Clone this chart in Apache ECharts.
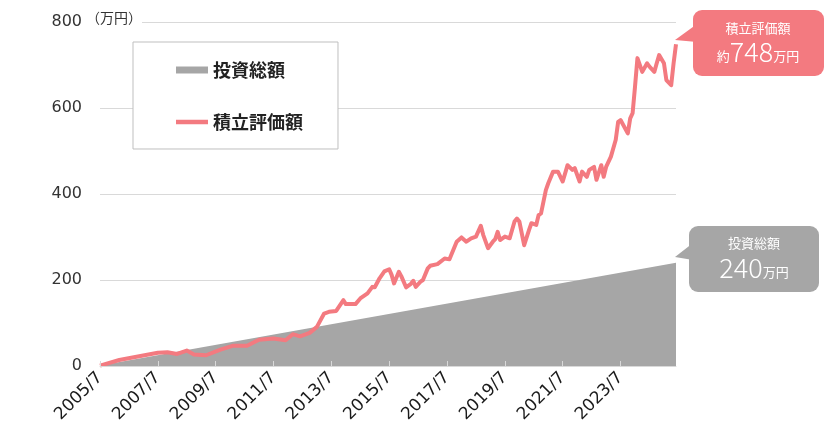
<!DOCTYPE html>
<html>
<head>
<meta charset="utf-8">
<script src="https://cdn.jsdelivr.net/npm/echarts@6/dist/echarts.min.js"></script>
<style>html,body{margin:0;padding:0;background:#fff;}#c{width:825px;height:437px;}</style>
</head>
<body>
<div id="c"></div>
<script>
// Month index 0 = 2005/7, 239 = 2025/6
const startYear = 2005, startMonth = 7, monthCount = 240;
const yTicks = [0, 200, 400, 600, 800];
const investMonths = [0, 239];
const investValues = [1, 240];
const evalMonths = [0, 8, 24, 28, 32, 36, 39, 44, 50, 55, 61, 66, 72, 77, 80, 83, 87, 90, 93, 95, 98, 101, 102, 106, 108, 111, 113, 114, 116, 118, 120, 121, 122, 124, 125, 127, 129, 130, 131, 133, 134, 136, 137, 140, 143, 145, 148, 150, 152, 154, 156, 158, 159, 161, 163, 164, 165, 166, 168, 170, 172, 173, 174, 176, 178, 179, 181, 182, 183, 185, 186, 188, 190, 192, 194, 196, 197, 199, 200, 202, 203, 205, 206, 208, 209, 210, 212, 214, 215, 216, 219, 220, 221, 222, 223, 225, 227, 228, 230, 231, 232, 234, 235, 237, 238, 239];
const evalValues = [1, 14, 31, 32, 28, 36, 27, 25, 38, 47, 47, 61, 64, 60, 74, 69, 77, 91, 122, 126, 128, 153, 144, 144, 157, 169, 184, 183, 204, 220, 225, 212, 192, 219, 209, 183, 191, 198, 184, 196, 200, 227, 233, 237, 250, 248, 289, 299, 289, 297, 301, 326, 305, 274, 289, 295, 312, 293, 301, 297, 336, 343, 336, 281, 316, 332, 328, 351, 355, 409, 425, 452, 452, 429, 467, 456, 460, 429, 452, 440, 456, 463, 433, 467, 440, 463, 487, 526, 568, 572, 541, 576, 588, 650, 716, 684, 704, 696, 684, 704, 723, 704, 665, 653, 704, 748];

const categories = [];
for (let i = 0; i < monthCount; i++) {
  const m = startMonth - 1 + i;
  categories.push((startYear + Math.floor(m / 12)) + '/' + (m % 12 + 1));
}
const investData = investMonths.map((m, i) => [m, investValues[i]]);
const evalData = evalMonths.map((m, i) => [m, evalValues[i]]);

const RED = '#f37a80', GRAY = '#a6a6a6';
const NUM_FONT = 'DejaVu Sans';
const JP = 'Noto Sans CJK JP';

const chart = echarts.init(document.getElementById('c'));
chart.setOption({
  animation: false,
  backgroundColor: '#fff',
  grid: { left: 100, right: 149, top: 22, bottom: 71 },
  legend: {
    orient: 'vertical', left: 133, top: 42,
    padding: [19, 35, 18, 43],
    itemWidth: 32, itemHeight: 7, itemGap: 34,
    borderColor: '#bfbfbf', borderWidth: 1, backgroundColor: '#fff',
    symbolKeepAspect: true,
    textStyle: { fontFamily: JP, fontSize: 18, fontWeight: 'bold', color: '#222' },
    data: [
      { name: '投資総額', icon: 'rect' },
      { name: '積立評価額', icon: 'path://M0,0 L32,0 L32,4.5 L0,4.5 Z' }
    ]
  },
  xAxis: {
    type: 'category', data: categories, boundaryGap: false, z: 5,
    axisLine: { lineStyle: { color: '#d9d9d9', width: 1 } },
    axisTick: { show: true, inside: true, length: 5, interval: 23, lineStyle: { color: '#d9d9d9' } },
    axisLabel: { interval: 23, rotate: 45, margin: 9, fontFamily: NUM_FONT, fontSize: 17, color: '#1a1a1a' },
    splitLine: { show: false }
  },
  yAxis: {
    type: 'value', min: yTicks[0], max: yTicks[yTicks.length - 1], interval: 200,
    axisLine: { show: false }, axisTick: { show: false },
    axisLabel: { margin: 18, fontFamily: NUM_FONT, fontSize: 16, color: '#333' },
    splitLine: { lineStyle: { color: '#d9d9d9', width: 1 } }
  },
  series: [
    {
      name: '投資総額', type: 'line', data: investData, showSymbol: false, symbol: 'none',
      color: GRAY, lineStyle: { width: 0 }, areaStyle: { color: GRAY, opacity: 1 }, z: 2
    },
    {
      name: '積立評価額', type: 'line', data: evalData, showSymbol: false, symbol: 'none',
      color: RED, lineStyle: { width: 4, color: RED, join: 'round' }, z: 3
    }
  ],
  graphic: [
    { type: 'text', left: 86, top: 11, z: 10,
      style: { text: '（万円）', font: '14px "' + JP + '"', fill: '#333', backgroundColor: '#fff' } },
    // valuation callout
    { type: 'polygon', z: 10, shape: { points: [[675, 40], [697, 24], [697, 42]] }, style: { fill: RED } },
    { type: 'rect', z: 10, shape: { x: 693, y: 10, width: 131, height: 66, r: 9 }, style: { fill: RED } },
    { type: 'text', z: 11, x: 758, y: 28,
      style: { text: '積立評価額', font: '13px "' + JP + '"', fill: '#fff', align: 'center', verticalAlign: 'middle' } },
    { type: 'text', z: 11, x: 758, y: 52,
      style: { text: '{s|約}{b|748}{s|万円}', fill: '#fff', align: 'center', verticalAlign: 'middle',
        rich: { s: { fontFamily: JP, fontSize: 13, fill: '#fff', verticalAlign: 'bottom', padding: [0, 0, 3, 0] },
                b: { fontFamily: JP, fontSize: 27, fontWeight: 300, fill: '#fff' } } } },
    // investment callout
    { type: 'polygon', z: 10, shape: { points: [[675, 257], [693, 243], [693, 260]] }, style: { fill: GRAY } },
    { type: 'rect', z: 10, shape: { x: 689, y: 226, width: 130, height: 66, r: 9 }, style: { fill: GRAY } },
    { type: 'text', z: 11, x: 754, y: 243,
      style: { text: '投資総額', font: '13px "' + JP + '"', fill: '#fff', align: 'center', verticalAlign: 'middle' } },
    { type: 'text', z: 11, x: 754, y: 268,
      style: { text: '{b|240}{s|万円}', fill: '#fff', align: 'center', verticalAlign: 'middle',
        rich: { s: { fontFamily: JP, fontSize: 13, fill: '#fff', verticalAlign: 'bottom', padding: [0, 0, 3, 0] },
                b: { fontFamily: JP, fontSize: 27, fontWeight: 300, fill: '#fff' } } } }
  ]
});
</script>
</body>
</html>
